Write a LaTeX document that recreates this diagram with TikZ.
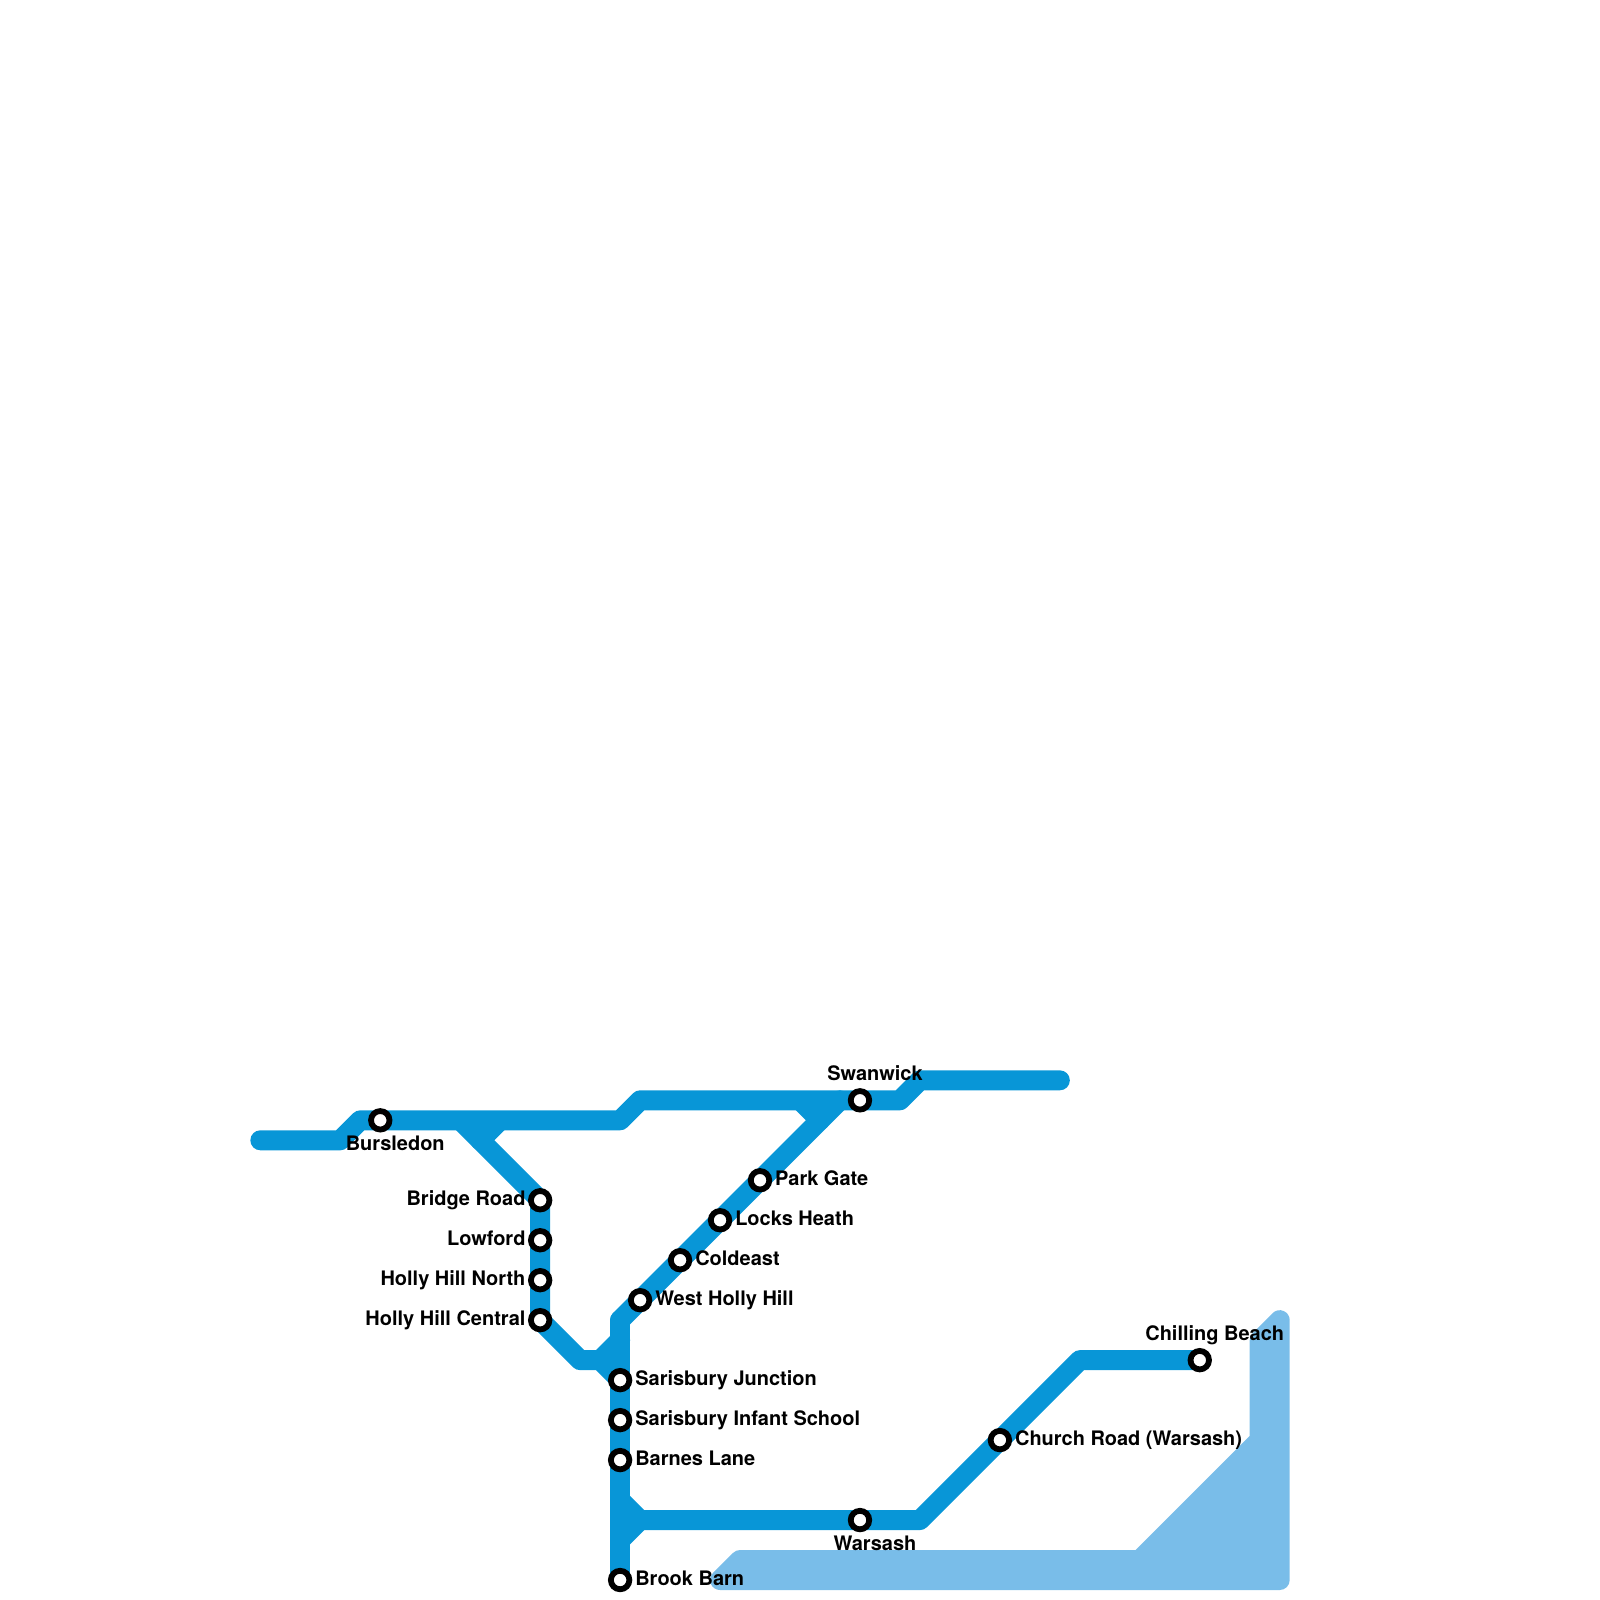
\documentclass[tikz,border=0pt]{standalone}
\usepackage{fontspec}
\usetikzlibrary{backgrounds}
\setmainfont{TeX Gyre Heros}
\definecolor{railblue}{HTML}{0896D7}
\definecolor{waterblue}{HTML}{79BDE9}

\begin{document}
\begin{tikzpicture}[x=0.1mm, y=-0.1mm,
    water/.style={draw=waterblue, fill=waterblue, line width=2mm, line join=round},
    rail/.style={draw=railblue, line width=2mm, line join=round, line cap=round},
    stn/.style={circle, draw=black, fill=white, line width=0.58mm, minimum size=1.85mm, inner sep=0pt},
    lab/.style={inner sep=0pt, font=\fontsize{5.69pt}{6pt}\selectfont\bfseries}]

\useasboundingbox (-0.5,-1) rectangle (1600.5,1600);

% bends of the water
\coordinate (wA) at ( 720, 1580);
\coordinate (wB) at ( 740, 1560);
\coordinate (wC) at (1140, 1560);
\coordinate (wD) at (1260, 1440);
\coordinate (wE) at (1260, 1340);
\coordinate (wF) at (1280, 1320);
\coordinate (wG) at (1280, 1580);

% bends of the line
\coordinate (tA) at ( 260, 1140);
\coordinate (tB) at ( 340, 1140);
\coordinate (tC) at ( 360, 1120);
\coordinate (tD) at ( 620, 1120);
\coordinate (tE) at ( 640, 1100);
\coordinate (tF) at ( 900, 1100);
\coordinate (tG) at ( 920, 1080);
\coordinate (tH) at (1060, 1080);
\coordinate (bA) at ( 463, 1123);
\coordinate (bB) at ( 480, 1140);
\coordinate (bC) at ( 497, 1123);
\coordinate (mA) at ( 580, 1360);
\coordinate (mB) at ( 600, 1360);
\coordinate (mC) at ( 620, 1340);
\coordinate (vA) at ( 620, 1320);
\coordinate (dA) at ( 840, 1100);
\coordinate (dB) at ( 803, 1103);
\coordinate (dC) at ( 820, 1120);
\coordinate (sA) at ( 620, 1500);
\coordinate (sB) at ( 640, 1520);
\coordinate (sC) at ( 620, 1540);
\coordinate (sD) at ( 920, 1520);
\coordinate (sE) at (1080, 1360);

% stations
\node[stn] (bursledon) at ( 380, 1120) {};
\node[stn] (bridge)    at ( 540, 1200) {};
\node[stn] (lowford)   at ( 540, 1240) {};
\node[stn] (hhnorth)   at ( 540, 1280) {};
\node[stn] (hhcentral) at ( 540, 1320) {};
\node[stn] (sarjunc)   at ( 620, 1380) {};
\node[stn] (sarinf)    at ( 620, 1420) {};
\node[stn] (barnes)    at ( 620, 1460) {};
\node[stn] (brook)     at ( 620, 1580) {};
\node[stn] (westhh)    at ( 640, 1300) {};
\node[stn] (coldeast)  at ( 680, 1260) {};
\node[stn] (locks)     at ( 720, 1220) {};
\node[stn] (parkgate)  at ( 760, 1180) {};
\node[stn] (swanwick)  at ( 860, 1100) {};
\node[stn] (warsash)   at ( 860, 1520) {};
\node[stn] (church)    at (1000, 1440) {};
\node[stn] (chilling)  at (1200, 1360) {};

\begin{scope}[on background layer]
  \draw[water] (wA) -- (wB) -- (wC) -- (wD) -- (wE) -- (wF) -- (wG) -- cycle;
  % top of the map
  \draw[rail] (tA) -- (tB) -- (tC) -- (tD) -- (tE) -- (tF) -- (tG) -- (tH);
  % first branch
  \draw[rail] (bA) -- (bridge.center) -- (hhcentral.center) -- (mA) -- (mB) -- (sarjunc.center);
  \draw[rail] (bB) -- (bC);
  \draw[rail] (mB) -- (mC);
  % second branch
  \draw[rail] (vA) -- (brook.center);
  \draw[rail] (vA) -- (dA);
  \draw[rail] (dB) -- (dC);
  % south of the map
  \draw[rail] (sA) -- (sB) -- (sC);
  \draw[rail] (sB) -- (sD) -- (sE) -- (chilling.center);
\end{scope}

% labels
\node[lab, anchor=base]      (lBursledon) at ( 395, 1150) {Bursledon};
\node[lab, anchor=base east] (lBridge)    at ( 526, 1205) {Bridge Road};
\node[lab, anchor=base east] (lLowford)   at ( 526, 1245) {Lowford};
\node[lab, anchor=base east] (lHhnorth)   at ( 526, 1285) {Holly Hill North};
\node[lab, anchor=base east] (lHhcentral) at ( 526, 1325) {Holly Hill Central};
\node[lab, anchor=base west] (lSarjunc)   at ( 634.5, 1385) {Sarisbury Junction};
\node[lab, anchor=base west] (lSarinf)    at ( 634.5, 1425) {Sarisbury Infant School};
\node[lab, anchor=base west] (lBarnes)    at ( 634.5, 1465) {Barnes Lane};
\node[lab, anchor=base west] (lBrook)     at ( 634.5, 1585) {Brook Barn};
\node[lab, anchor=base west] (lWesthh)    at ( 654.5, 1305) {West Holly Hill};
\node[lab, anchor=base west] (lColdeast)  at ( 694.5, 1265) {Coldeast};
\node[lab, anchor=base west] (lLocks)     at ( 734.5, 1225) {Locks Heath};
\node[lab, anchor=base west] (lParkgate)  at ( 774.5, 1185) {Park Gate};
\node[lab, anchor=base]      (lSwanwick)  at ( 875, 1080) {Swanwick};
\node[lab, anchor=base]      (lWarsash)   at ( 875, 1550) {Warsash};
\node[lab, anchor=base west] (lChurch)    at (1014.5, 1445) {Church Road (Warsash)};
\node[lab, anchor=base]      (lChilling)  at (1215, 1340) {Chilling Beach};

\end{tikzpicture}
\end{document}
